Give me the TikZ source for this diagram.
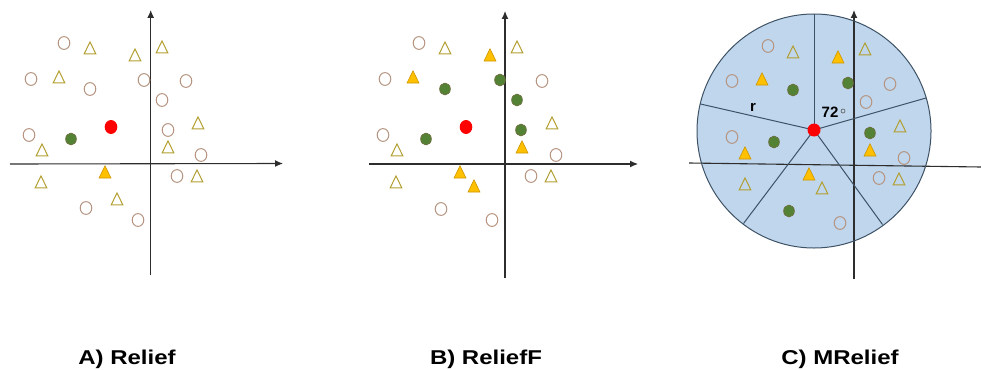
\documentclass[tikz,border=0pt]{standalone}
\usepackage{fontspec}
\setmainfont{Liberation Sans}
\usetikzlibrary{arrows.meta}
\definecolor{circcol}{RGB}{182,148,128}
\definecolor{tricol}{RGB}{178,158,48}
\definecolor{goldfill}{RGB}{255,192,0}
\definecolor{goldline}{RGB}{205,150,0}
\definecolor{greenfill}{RGB}{84,130,53}
\definecolor{greenline}{RGB}{110,105,60}
\definecolor{bluefill}{RGB}{191,214,237}
\definecolor{blueline}{RGB}{62,82,102}
\definecolor{axiscol}{RGB}{45,45,45}
\tikzset{
  axisline/.style={draw=axiscol, line width=1.1pt},
  axisarrow/.style={axisline, -{Latex[length=8pt,width=7pt]}},
  ocirc/.style={draw=circcol, line width=1pt},
  otri/.style={draw=tricol, line width=1pt, line join=miter},
  ftri/.style={draw=goldline, fill=goldfill, line width=0.6pt},
  gdot/.style={draw=greenline, fill=greenfill, line width=0.6pt},
  rdot/.style={fill=red},
  sector/.style={draw=blueline, line width=1pt},
  caption/.style={font=\fontsize{20}{24}\selectfont\bfseries, anchor=base, inner sep=0pt},
  smalllabel/.style={font=\fontsize{15}{18}\selectfont\bfseries, inner sep=0pt}
}
\newcommand\oc[2]{\draw[ocirc] (#1,#2) ellipse [x radius=5.8, y radius=6.4];}
\newcommand\ot[2]{\draw[otri] (#1,#2) +(-5.8,5.8) -- +(5.8,5.8) -- +(0,-6) -- cycle;}
\newcommand\ft[2]{\draw[ftri] (#1,#2) +(-6,6) -- +(6,6) -- +(0,-6.2) -- cycle;}
\newcommand\gd[2]{\draw[gdot] (#1,#2) ellipse [x radius=5.4, y radius=6];}
\newcommand\rd[2]{\fill[rdot] (#1,#2) ellipse [x radius=6.3, y radius=7];}
\begin{document}
\begin{tikzpicture}[x=1pt,y=-1pt]
\useasboundingbox (0,0) rectangle (981,369);
% ---------- Panel A ----------
\coordinate (aL) at (10,164); \coordinate (aR) at (283,163.5);
\coordinate (aB) at (150.7,275); \coordinate (aT) at (150.7,10);
\draw[axisarrow] (aL) -- (aR);
\draw[axisarrow] (aB) -- (aT);
\foreach \x/\y in {64/43,31/79,90/89,144/80,186/81,162/100,29/135,168/130,201/155,177/176,86/208,138/220} {\oc{\x}{\y}}
\foreach \x/\y in {90/48,135/55,162/47,59/77,198/123,42/150,168/147,41/182,197/176,117/199} {\ot{\x}{\y}}
\ft{105}{172}
\gd{71}{139}
\rd{111}{127}
% ---------- Panel B ----------
\coordinate (bL) at (369,164); \coordinate (bR) at (638,164);
\coordinate (bB) at (505,278); \coordinate (bT) at (505,11);
\draw[axisarrow] (bL) -- (bR);
\draw[axisarrow] (bB) -- (bT);
\foreach \x/\y in {419/43,385/79,383/135,542/81,556/155,531/176,441/209,492/220} {\oc{\x}{\y}}
\foreach \x/\y in {445/48,517/47,397/150,552/123,396/182,551/176} {\ot{\x}{\y}}
\foreach \x/\y in {490/55,413/77,522/147,460/172,474/186} {\ft{\x}{\y}}
\foreach \x/\y in {445/89,500/80,517/100,521/130,426/139} {\gd{\x}{\y}}
\rd{466}{127}
% ---------- Panel C ----------
\fill[bluefill] (814,131) circle [radius=117];
\coordinate (cL) at (689,163); \coordinate (cR) at (981,167);
\coordinate (cB) at (854,279); \coordinate (cT) at (854,10);
\draw[axisline] (cL) -- (cR);
\draw[axisarrow] (cB) -- (cT);
\draw[draw=blueline, line width=1pt] (814,131) circle [radius=117];
\coordinate (cc) at (814,130);
\coordinate (s1) at (814,14);
\coordinate (s2) at (700.5,104);
\coordinate (s3) at (743.5,223.5);
\coordinate (s4) at (882.5,224.5);
\coordinate (s5) at (926,98);
\foreach \s in {s1,s2,s3,s4,s5} {\draw[sector] (cc) -- (\s);}
\foreach \x/\y in {768/46,732/81,866/102,890/84,732/137,904/158,879/178,840/223} {\oc{\x}{\y}}
\foreach \x/\y in {793/52,865/49,900/126,745/184,822/188,899/179} {\ot{\x}{\y}}
\foreach \x/\y in {838/57,762/79,745/153,870/150,809/174} {\ft{\x}{\y}}
\foreach \x/\y in {793/90,848/83,774/142,870/133,789/211} {\gd{\x}{\y}}
\node[circle, fill=red, minimum size=13pt, inner sep=0pt] (center) at (cc) {};
\node[smalllabel] (rlab) at (753,107) {r};
\node[smalllabel, anchor=base west] (deg) at (821.5,117.5) {72};
\node[circle, draw=axiscol!80, line width=0.6pt, minimum size=4pt, inner sep=0pt] (degsym) at (843,111) {};
% ---------- Captions ----------
\node[caption] (capA) at (127,364.5) {\scalebox{1.2}[1]{A) Relief}};
\node[caption] (capB) at (486,364.5) {\scalebox{1.2}[1]{B) ReliefF}};
\node[caption] (capC) at (840,364.5) {\scalebox{1.2}[1]{C) MRelief}};
\end{tikzpicture}
\end{document}
